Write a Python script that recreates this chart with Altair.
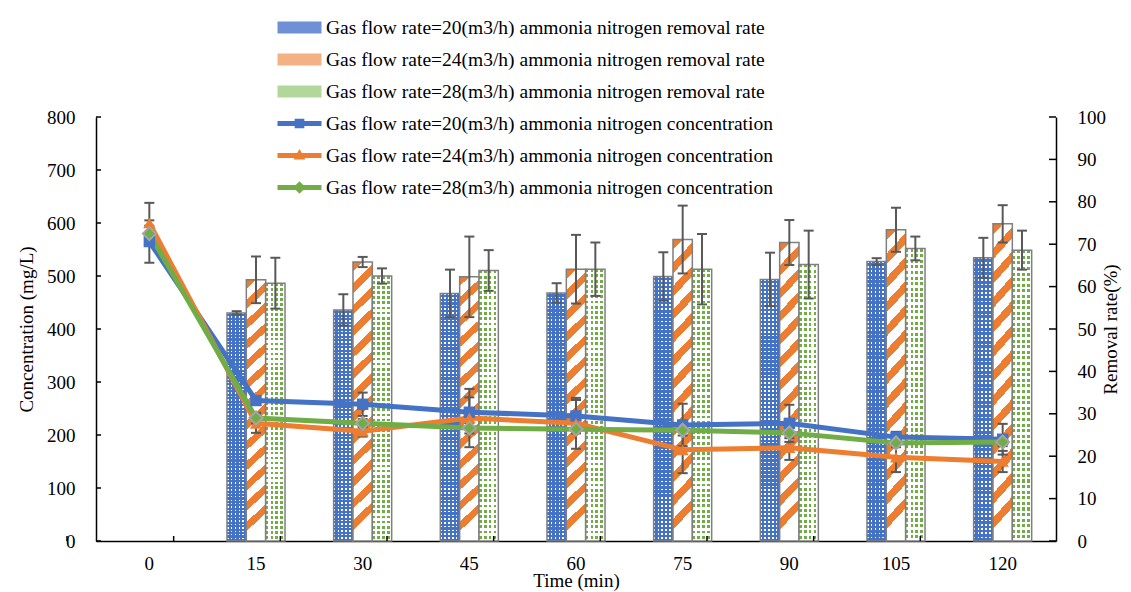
import altair as alt
import pandas as pd

# ---------------- data ----------------
times = ["0", "15", "30", "45", "60", "75", "90", "105", "120"]
bar_times = ["15", "30", "45", "60", "75", "90", "105", "120"]
keys = ["20", "24", "28"]

rate_20 = [53.8, 54.5, 58.4, 58.5, 62.4, 61.7, 65.9, 66.8]
rate_20_err = [0.4, 3.7, 5.6, 2.3, 5.7, 6.3, 0.8, 4.7]
rate_24 = [61.6, 65.8, 62.3, 64.1, 71.1, 70.4, 73.4, 74.8]
rate_24_err = [5.5, 1.2, 9.5, 8.1, 8.0, 5.3, 5.2, 4.4]
rate_28 = [60.8, 62.5, 63.8, 64.1, 64.1, 65.2, 69.0, 68.6]
rate_28_err = [6.0, 1.8, 4.8, 6.3, 8.3, 8.0, 2.8, 4.6]

conc_20 = [565, 265, 258, 243, 236, 219, 222, 196, 192]
conc_20_err = [40, 8, 22, 28, 30, 40, 35, 10, 29]
conc_24 = [600, 222, 207, 232, 222, 172, 176, 158, 150]
conc_24_err = [38, 18, 10, 55, 48, 44, 23, 28, 20]
conc_28 = [580, 232, 222, 213, 211, 209, 204, 185, 187]
conc_28_err = [15, 10, 8, 10, 8, 10, 10, 8, 8]

bar_names = [
    "Gas flow rate=20(m3/h) ammonia nitrogen removal rate",
    "Gas flow rate=24(m3/h) ammonia nitrogen removal rate",
    "Gas flow rate=28(m3/h) ammonia nitrogen removal rate",
]
line_names = [
    "Gas flow rate=20(m3/h) ammonia nitrogen concentration",
    "Gas flow rate=24(m3/h) ammonia nitrogen concentration",
    "Gas flow rate=28(m3/h) ammonia nitrogen concentration",
]

left_ticks = [0, 100, 200, 300, 400, 500, 600, 700, 800]
right_ticks = [0, 10, 20, 30, 40, 50, 60, 70, 80, 90, 100]

BLUE, ORANGE, GREEN = "#4472C4", "#ED7D31", "#70AD47"
ERR = "#595959"
EDGE = "#7f7f7f"
FONT = "'Times New Roman', 'Liberation Serif', 'DejaVu Serif', serif"

W, H = 960, 424

# ---------------- tables ----------------
bar_rows = []
for k, vals, errs in zip(keys, [rate_20, rate_24, rate_28], [rate_20_err, rate_24_err, rate_28_err]):
    for t, v, e in zip(bar_times, vals, errs):
        bar_rows.append({"t": t, "s": k, "rate": v, "lo": v - e, "hi": v + e})
bars_df = pd.DataFrame(bar_rows)

line_rows = []
for k, nm, vals, errs in zip(keys, line_names, [conc_20, conc_24, conc_28], [conc_20_err, conc_24_err, conc_28_err]):
    for t, v, e in zip(times, vals, errs):
        line_rows.append({"t": t, "s": k, "conc": v, "lo": v - e, "hi": v + e, "legend": nm})
lines_df = pd.DataFrame(line_rows)

left_tick_df = pd.DataFrame({"v": left_ticks})
right_tick_df = pd.DataFrame({"v": right_ticks})
x_tick_df = pd.DataFrame({"t": times})


# ---------------- pattern helpers ----------------
def stripe_stops(n, c1, frac, c2):
    stops = []
    for i in range(n):
        a, b, c = i / n, (i + frac) / n, (i + 1) / n
        stops += [(a, c1), (b, c1), (b, c2), (c, c2)]
    return stops


def grad(stops, x1, y1, x2, y2):
    return {"gradient": "linear", "x1": x1, "y1": y1, "x2": x2, "y2": y2,
            "stops": [{"offset": round(o, 5), "color": c} for o, c in stops]}


CLEAR = "rgba(255,255,255,0)"

# ---------------- scales / encodings ----------------
P_IN, P_OUT = 0.456, 0.228
x_scale = alt.Scale(domain=times, paddingInner=P_IN, paddingOuter=P_OUT)
x_axis = alt.Axis(title="Time (min)", labelAngle=0, ticks=False, labelPadding=13, titlePadding=-2)
X = alt.X("t:N", sort=times, scale=x_scale, axis=x_axis)
HALF_STEP = W / len(times) / 2
XO = alt.XOffset("s:N", scale=alt.Scale(domain=keys, paddingInner=0, paddingOuter=0))

right_axis = alt.Axis(orient="right", title="Removal rate(%)", values=right_ticks, ticks=False,
                      labelPadding=21, titleAngle=270, titlePadding=15)
rate_scale = alt.Scale(domain=[0, 100], nice=False)
left_axis = alt.Axis(orient="left", title="Concentration (mg/L)", values=left_ticks, ticks=False,
                     labelPadding=21, titlePadding=10)
conc_scale = alt.Scale(domain=[0, 800], nice=False)


def bar_base(key):
    return alt.Chart(bars_df).transform_filter(alt.datum.s == key)


def bar_enc(ch):
    return ch.encode(x=X, xOffset=XO, y=alt.Y("rate:Q", scale=rate_scale, axis=right_axis))


bar_layers = []
# blue dotted bars
bar_layers.append(bar_enc(bar_base("20").mark_bar(fill=BLUE, opacity=1, strokeWidth=0)))
bar_layers.append(bar_enc(bar_base("20").mark_bar(
    fill=grad(stripe_stops(66, "#ffffff", 0.4, CLEAR), 1, 0, 1, 1), opacity=1, strokeWidth=0)))
bar_layers.append(bar_enc(bar_base("20").mark_bar(
    fill=grad(stripe_stops(5, CLEAR, 0.42, BLUE), 0, 0, 1, 0), opacity=1, stroke=EDGE, strokeWidth=1.5)))
# orange hatched bars
bar_layers.append(bar_enc(bar_base("24").mark_bar(
    fill=grad(stripe_stops(13, ORANGE, 0.45, "#ffffff"), 0, 0, 0.068, 1), opacity=1,
    stroke=EDGE, strokeWidth=1.5)))
# green dotted bars
bar_layers.append(bar_enc(bar_base("28").mark_bar(fill="#ffffff", opacity=1, strokeWidth=0)))
bar_layers.append(bar_enc(bar_base("28").mark_bar(
    fill=grad(stripe_stops(52, GREEN, 0.55, CLEAR), 1, 0, 1, 1), opacity=1, strokeWidth=0)))
bar_layers.append(bar_enc(bar_base("28").mark_bar(
    fill=grad(stripe_stops(4, CLEAR, 0.58, "#ffffff"), 0, 0, 1, 0), opacity=1, stroke=EDGE, strokeWidth=1.5)))

# bar error bars
bar_err = alt.Chart(bars_df).mark_rule(color=ERR, strokeWidth=2, opacity=1).encode(
    x=X, xOffset=XO, y=alt.Y("lo:Q", scale=rate_scale, axis=right_axis), y2="hi:Q")
bar_cap_lo = alt.Chart(bars_df).mark_tick(color=ERR, thickness=2, size=10, opacity=1).encode(
    x=X, xOffset=XO, y=alt.Y("lo:Q", scale=rate_scale, axis=right_axis))
bar_cap_hi = alt.Chart(bars_df).mark_tick(color=ERR, thickness=2, size=10, opacity=1).encode(
    x=X, xOffset=XO, y=alt.Y("hi:Q", scale=rate_scale, axis=right_axis))
# inward ticks of the right axis
right_tick_marks = alt.Chart(right_tick_df).mark_rule(color="black", strokeWidth=1.5).encode(
    y=alt.Y("v:Q", scale=rate_scale, axis=right_axis), x=alt.value(W - 7), x2=alt.value(W))
bar_layers += [bar_err, bar_cap_lo, bar_cap_hi, right_tick_marks]

bars_group = alt.layer(*bar_layers)

# ---------------- lines ----------------
Yc = alt.Y("conc:Q", scale=conc_scale, axis=left_axis)
Ylo = alt.Y("lo:Q", scale=conc_scale, axis=left_axis)
Yhi = alt.Y("hi:Q", scale=conc_scale, axis=left_axis)

line_err = alt.Chart(lines_df).mark_rule(color=ERR, strokeWidth=2, opacity=1).encode(x=X, y=Ylo, y2="hi:Q")
line_cap_lo = alt.Chart(lines_df).mark_tick(color=ERR, thickness=2, size=10, opacity=1).encode(x=X, y=Ylo)
line_cap_hi = alt.Chart(lines_df).mark_tick(color=ERR, thickness=2, size=10, opacity=1).encode(x=X, y=Yhi)
left_tick_marks = alt.Chart(left_tick_df).mark_rule(color="black", strokeWidth=1.5).encode(
    y=alt.Y("v:Q", scale=conc_scale, axis=left_axis), x=alt.value(0), x2=alt.value(5))
# inward x ticks at the category boundaries
x_tick_marks = alt.Chart(x_tick_df).mark_rule(color="black", strokeWidth=1.5).encode(
    x=X, xOffset=alt.value(-HALF_STEP), y=alt.value(H - 5), y2=alt.value(H))

line_layers = [left_tick_marks, x_tick_marks, line_err, line_cap_lo, line_cap_hi]
marker = {"20": ("square", BLUE, 130), "24": ("triangle-up", ORANGE, 150), "28": ("diamond", GREEN, 170)}
for k, col in zip(keys, [BLUE, ORANGE, GREEN]):
    base = alt.Chart(lines_df).transform_filter(alt.datum.s == k)
    line_layers.append(base.mark_line(color=col, strokeWidth=5, opacity=1).encode(x=X, y=Yc))
for k in keys:
    shp, col, sz = marker[k]
    base = alt.Chart(lines_df).transform_filter(alt.datum.s == k)
    if k == "28":
        m = base.mark_point(shape=shp, filled=True, fill=col, stroke="#a5a5a5", strokeWidth=2,
                            size=sz, opacity=1)
    else:
        m = base.mark_point(shape=shp, filled=True, color=col, size=sz, opacity=1)
    line_layers.append(m.encode(x=X, y=Yc))

# ---------------- legend (empty layer, explicit domains) ----------------
all_names = bar_names + line_names
legend_paths = [
    "M-1,-0.27H1V0.27H-1Z",
    "M-1,-0.27H1V0.27H-1Z",
    "M-1,-0.27H1V0.27H-1Z",
    "M-1,-0.11H1V0.11H-1Z M-0.22,-0.22H0.22V0.22H-0.22Z",
    "M-1,-0.11H1V0.11H-1Z M0,-0.3L0.27,0.18H-0.27Z",
    "M-1,-0.11H1V0.11H-1Z M0,-0.28L0.28,0L0,0.28L-0.28,0Z",
]
legend_colors = ["#6f90d6", "#f4b183", "#b3d79b", BLUE, ORANGE, GREEN]

legend = alt.Legend(
    title=None, orient="none", legendX=181, legendY=-112, direction="vertical",
    symbolSize=1936, symbolOpacity=1, symbolStrokeColor=EDGE, symbolStrokeWidth=0.6,
    labelFont=FONT, labelFontSize=19.5, labelColor="black",
    labelOffset=4, rowPadding=-2, padding=0, labelLimit=800,
)
legend_layer = alt.Chart(lines_df).transform_filter("false").mark_point(filled=True, opacity=1).encode(
    x=X, y=Yc,
    color=alt.Color("legend:N", scale=alt.Scale(domain=all_names, range=legend_colors), legend=legend),
    shape=alt.Shape("legend:N", scale=alt.Scale(domain=all_names, range=legend_paths), legend=legend),
)
line_layers.append(legend_layer)

lines_group = alt.layer(*line_layers)

chart = alt.layer(bars_group, lines_group).resolve_scale(y="independent").properties(
    width=W, height=H,
    padding={"left": 88, "top": 109, "right": 67, "bottom": 51},
    autosize=alt.AutoSizeParams(type="none"),
).configure_view(strokeWidth=0).configure_axis(
    grid=False, labelFont=FONT, titleFont=FONT, labelFontSize=19, titleFontSize=19,
    titleFontWeight="normal", labelColor="black", titleColor="black",
    domainColor="black", tickColor="black", domainWidth=1.5, tickWidth=1.5,
)

chart.save("out.html", embed_options={"renderer": "svg", "actions": False})
